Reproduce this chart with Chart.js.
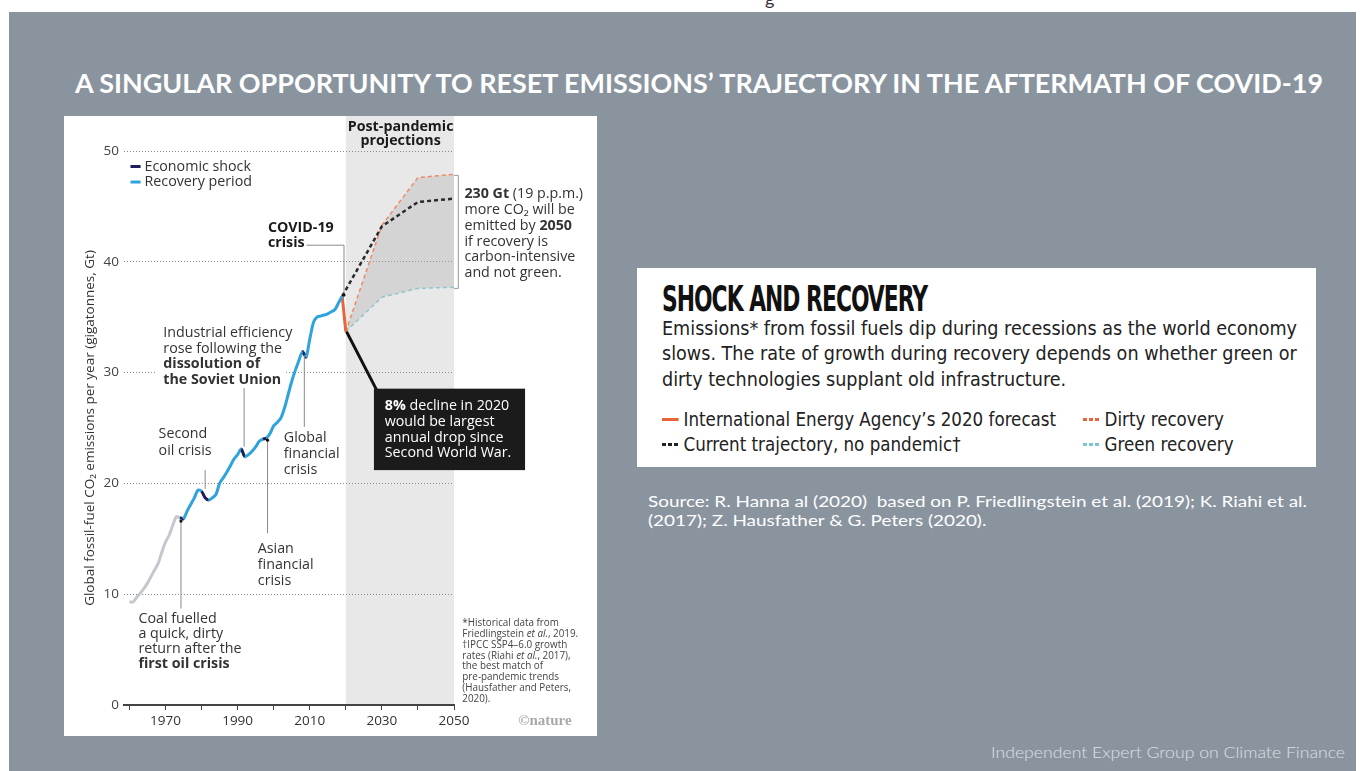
<!DOCTYPE html>
<html>
<head>
<meta charset="utf-8">
<script src="https://cdn.jsdelivr.net/npm/chart.js@4.4.1/dist/chart.umd.min.js"></script>
<style>
  html, body { margin: 0; padding: 0; width: 1360px; height: 771px; overflow: hidden; background: #fff; font-family: Lato, sans-serif; }
  .abs { position: absolute; white-space: nowrap; transform-origin: 0 0; }
  #topg { left: 765px; top: -13px; font-size: 18px; color: #333; }
  #slide { position: absolute; left: 9px; top: 12px; width: 1347px; height: 759px; background: #8a949f; }
  #title { left: 75px; top: 67px; color: #fff; font: bold 26px Lato; }
  #panel { position: absolute; left: 64px; top: 116px; width: 533px; height: 620px; background: #fff; }
  #box { position: absolute; left: 637px; top: 268px; width: 679px; height: 199px; background: #fff; }
  #boxTitle { left: 662px; top: 278px; font: bold 36px "DejaVu Sans Condensed"; color: #111; letter-spacing: -1.5px; }
  .body { left: 662px; font: 20px "DejaVu Sans Condensed"; color: #222; }
  .leg { font: 19px "DejaVu Sans Condensed"; color: #222; display: flex; align-items: center; transform-origin: 0 50%; }
  .dash { display: inline-block; width: 17px; height: 3px; margin-right: 5px; }
  .src { left: 648px; color: #fff; font: 16px Lato; }
  #footer { left: 991px; top: 742px; color: #dde1e5; font: 300 16px Lato; }
</style>
</head>
<body>
<div id="topg" class="abs">g</div>
<div id="slide"></div>
<div id="title" class="abs">A SINGULAR OPPORTUNITY TO RESET EMISSIONS’ TRAJECTORY IN THE AFTERMATH OF COVID-19</div>
<div id="panel"><canvas id="chart" width="533" height="620"></canvas></div>

<div id="box"></div>
<div id="boxTitle" class="abs">SHOCK AND RECOVERY</div>
<div id="body1" class="abs body" style="top:316px">Emissions* from fossil fuels dip during recessions as the world economy</div>
<div id="body2" class="abs body" style="top:341px">slows. The rate of growth during recovery depends on whether green or</div>
<div id="body3" class="abs body" style="top:367px">dirty technologies supplant old infrastructure.</div>
<div id="leg1" class="abs leg" style="left:662px;top:408px"><span class="dash" style="background:#e8643a"></span>International Energy Agency’s 2020 forecast</div>
<div id="leg2" class="abs leg" style="left:1083px;top:408px"><span class="dash" style="background:repeating-linear-gradient(90deg,#e8643a 0 4px,transparent 4px 6px)"></span>Dirty recovery</div>
<div id="leg3" class="abs leg" style="left:662px;top:433px"><span class="dash" style="background:repeating-linear-gradient(90deg,#222 0 4px,transparent 4px 6px)"></span>Current trajectory, no pandemic†</div>
<div id="leg4" class="abs leg" style="left:1083px;top:433px"><span class="dash" style="background:repeating-linear-gradient(90deg,#7cc6cf 0 4px,transparent 4px 6px)"></span>Green recovery</div>

<div id="src1" class="abs src" style="top:491px">Source: R. Hanna al (2020)&nbsp; based on P. Friedlingstein et al. (2019); K. Riahi et al.</div>
<div id="src2" class="abs src" style="top:510px">(2017); Z. Hausfather &amp; G. Peters (2020).</div>
<div id="footer" class="abs">Independent Expert Group on Climate Finance</div>

<script>
// historical fossil CO2 emissions (Gt)
const years = [1960, 1961, 1962, 1963, 1964, 1965, 1966, 1967, 1968, 1969,
  1970, 1971, 1972, 1973, 1974, 1975, 1976, 1977, 1978, 1979,
  1980, 1981, 1982, 1983, 1984, 1985, 1986, 1987, 1988, 1989,
  1990, 1991, 1992, 1993, 1994, 1995, 1996, 1997, 1998, 1999,
  2000, 2001, 2002, 2003, 2004, 2005, 2006, 2007, 2008, 2009,
  2010, 2011, 2012, 2013, 2014, 2015, 2016, 2017, 2018, 2019];
const emissions = [9.3, 9.3, 9.7, 10.1, 10.5, 11.0, 11.6, 12.2, 12.8, 13.8,
  14.7, 15.3, 16.2, 17.0, 16.9, 16.8, 17.5, 18.1, 18.7, 19.4,
  19.3, 18.7, 18.5, 18.7, 19.0, 20.0, 20.5, 21.0, 21.6, 22.2,
  22.6, 23.1, 22.4, 22.6, 22.9, 23.3, 23.8, 24.0, 24.1, 24.5,
  25.2, 25.5, 25.9, 26.8, 28.0, 29.2, 30.2, 31.1, 31.9, 31.4,
  33.0, 34.5, 35.0, 35.1, 35.2, 35.3, 35.5, 35.7, 36.3, 36.9];
const grayUntil = 1974;
const shockStarts = [1974, 1980, 1981, 1991, 1997, 2008];

const ieaYears = [2019, 2020];
const ieaValues = [36.9, 33.7];
const trajectoryYears = [2019, 2030, 2040, 2050];
const trajectoryValues = [36.9, 43.2, 45.4, 45.7];
const scenarioYears = [2020, 2030, 2040, 2050];
const dirtyValues = [33.7, 43.3, 47.6, 47.9];
const greenValues = [33.7, 36.8, 37.6, 37.7];

const yTicks = [0, 10, 20, 30, 40, 50];
const xTicks = [1960, 1970, 1980, 1990, 2000, 2010, 2020, 2030, 2040, 2050];
const xLabels = [1970, 1990, 2010, 2030, 2050];
const projection = [2020, 2050];

const BLUE = '#2ea3dc', NAVY = '#1d1f5c', GRAY = '#c3c8cf', ORANGE = '#e8643a';
const FONT = '"Open Sans"';
let K = 1; // text scale so annotation widths match the figure

const toXY = (xs, ys) => xs.map((x, i) => ({ x, y: ys[i] }));

// draws a line of text, ** toggles bold, _ toggles italic
function richLine(ctx, x, y, line, size, color) {
  let bold = false, italic = false;
  ctx.fillStyle = color;
  ctx.textBaseline = 'middle';
  ctx.textAlign = 'left';
  for (const tok of line.split(/(\*\*|_)/)) {
    if (tok === '**') { bold = !bold; continue; }
    if (tok === '_') { italic = !italic; continue; }
    if (!tok) continue;
    ctx.font = `${italic ? 'italic ' : ''}${bold ? 'bold ' : ''}${size * K}px ${FONT}`;
    ctx.fillText(tok, x, y);
    x += ctx.measureText(tok).width;
  }
  return x;
}

function block(ctx, x, y, lines, size, lh, color) {
  lines.forEach((l, i) => richLine(ctx, x, y + i * lh, l, size, color));
}

function vline(ctx, x, y0, y1, color, w) {
  ctx.strokeStyle = color; ctx.lineWidth = w || 1;
  ctx.beginPath(); ctx.moveTo(x, y0); ctx.lineTo(x, y1); ctx.stroke();
}

function dot(ctx, x, y) {
  ctx.fillStyle = '#111';
  ctx.beginPath(); ctx.arc(x, y, 1.6, 0, Math.PI * 2); ctx.fill();
}

const decor = {
  id: 'decor',
  beforeDraw(chart) {
    const { ctx, chartArea, scales: { x } } = chart;
    ctx.save();
    ctx.font = `13px ${FONT}`;
    K = 129 / ctx.measureText('Industrial efficiency').width;
    const x0 = x.getPixelForValue(projection[0]);
    const x1 = x.getPixelForValue(projection[1]);
    ctx.fillStyle = '#e8e8e8';
    ctx.fillRect(x0, 0, x1 - x0, chartArea.bottom);
    ctx.restore();
  },
  beforeDatasetsDraw(chart) {
    // the label block interrupts the 30 Gt gridline
    const { ctx, scales: { x, y } } = chart;
    ctx.save();
    ctx.fillStyle = '#fff';
    const l = x.getPixelForValue(1967.5), r = x.getPixelForValue(2003.3);
    ctx.fillRect(l, y.getPixelForValue(34.3), r - l, y.getPixelForValue(28.0) - y.getPixelForValue(34.3));
    ctx.restore();
  },
  afterDraw(chart) {
    const { ctx, scales: { x, y } } = chart;
    const X = v => x.getPixelForValue(v);
    const Y = v => y.getPixelForValue(v);
    const LH = 15.8, SZ = 13, TXT = '#333', LEAD = '#8a8a8a';
    ctx.save();

    // legend
    ctx.lineWidth = 3;
    ctx.strokeStyle = NAVY;
    ctx.beginPath(); ctx.moveTo(X(1960.3), Y(48.6)); ctx.lineTo(X(1963.1), Y(48.6)); ctx.stroke();
    ctx.strokeStyle = BLUE;
    ctx.beginPath(); ctx.moveTo(X(1960.3), Y(47.2)); ctx.lineTo(X(1963.1), Y(47.2)); ctx.stroke();
    richLine(ctx, X(1964.2), Y(48.6), 'Economic shock', SZ, TXT);
    richLine(ctx, X(1964.2), Y(47.2), 'Recovery period', SZ, TXT);

    // first oil crisis
    vline(ctx, X(1974.3), Y(16.8), Y(8.7), LEAD);
    dot(ctx, X(1974.3), Y(16.6));
    block(ctx, X(1962.5), Y(7.8), ['Coal fuelled', 'a quick, dirty', 'return after the', '**first oil crisis**'], SZ, 15, TXT);

    // second oil crisis
    vline(ctx, X(1981.0), Y(21.2), Y(19.5), LEAD);
    block(ctx, X(1968.1), Y(24.45), ['Second', 'oil crisis'], SZ, 16.4, TXT);

    // soviet union
    block(ctx, X(1969.4), Y(33.6), ['Industrial efficiency', 'rose following the', '**dissolution of**', '**the Soviet Union**'], SZ, LH, TXT);
    vline(ctx, X(1991.8), Y(28.6), Y(23.3), LEAD);

    // asian crisis
    vline(ctx, X(1998.3), Y(24.0), Y(15.5), LEAD);
    dot(ctx, X(1998.3), Y(23.9));
    block(ctx, X(1995.6), Y(14.07), ['Asian', 'financial', 'crisis'], SZ, LH, TXT);

    // global financial crisis
    vline(ctx, X(2008.5), Y(31.6), Y(25.1), LEAD);
    block(ctx, X(2002.8), Y(24.1), ['Global', 'financial', 'crisis'], SZ, LH, TXT);

    // covid
    block(ctx, X(1998.4), Y(43.05), ['**COVID-19**', '**crisis**'], 13, 15, '#1a1a1a');
    ctx.strokeStyle = LEAD; ctx.lineWidth = 1;
    ctx.beginPath();
    ctx.moveTo(X(2009.1), Y(41.5)); ctx.lineTo(X(2019.5), Y(41.5)); ctx.lineTo(X(2019.5), Y(37.1));
    ctx.stroke();
    dot(ctx, X(2019.5), Y(37.0));

    // header of projection band
    ctx.textAlign = 'center';
    ctx.textBaseline = 'middle';
    ctx.fillStyle = '#1a1a1a';
    ctx.font = `bold ${13 * K}px ${FONT}`;
    ctx.fillText('Post-pandemic', X(2035.2), Y(52.2));
    ctx.fillText('projections', X(2035.2), Y(50.9));

    // bracket + 230 Gt note
    ctx.strokeStyle = '#9a9a9a'; ctx.lineWidth = 1;
    ctx.beginPath();
    ctx.moveTo(X(2050), Y(47.8)); ctx.lineTo(X(2051.2), Y(47.8)); ctx.lineTo(X(2051.2), Y(37.6)); ctx.lineTo(X(2050), Y(37.6));
    ctx.stroke();
    block(ctx, X(2052.9), Y(46.1), ['**230 Gt** (19 p.p.m.)', 'more CO₂ will be', 'emitted by **2050**', 'if recovery is', 'carbon-intensive', 'and not green.'], SZ, LH, TXT);

    // black call-out box
    ctx.strokeStyle = '#111'; ctx.lineWidth = 3;
    ctx.beginPath(); ctx.moveTo(X(2020.2), Y(33.7)); ctx.lineTo(X(2028.6), Y(28.4)); ctx.stroke();
    ctx.fillStyle = '#1b1b1b';
    ctx.fillRect(X(2027.8), Y(28.55), X(2069.7) - X(2027.8), Y(21.2) - Y(28.55));
    block(ctx, X(2030.8), Y(27.0), ['**8%** decline in 2020', 'would be largest', 'annual drop since', 'Second World War.'], SZ, LH, '#fff');

    // footnote
    block(ctx, X(2052.3), Y(7.4), ['*Historical data from', 'Friedlingstein _et al._, 2019.', '†IPCC SSP4–6.0 growth', 'rates (Riahi _et al._, 2017),', 'the best match of', 'pre-pandemic trends', '(Hausfather and Peters,', '2020).'], 9, 10.9, '#444');

    // nature credit
    ctx.textAlign = 'left';
    ctx.fillStyle = '#a9a9a9';
    ctx.font = 'bold 15px "Liberation Serif"';
    ctx.fillText('©nature', X(2067.8), Y(-1.45));
    ctx.restore();
  }
};

new Chart(document.getElementById('chart'), {
  type: 'line',
  data: {
    datasets: [
      {
        label: 'Historical',
        data: toXY(years, emissions),
        borderColor: BLUE,
        borderWidth: 3,
        tension: 0.25,
        pointRadius: 0,
        segment: {
          borderColor: c => {
            const yr = years[c.p0DataIndex];
            if (yr < grayUntil) return GRAY;
            if (shockStarts.includes(yr)) return NAVY;
            return BLUE;
          }
        }
      },
      {
        label: 'International Energy Agency 2020 forecast',
        data: toXY(ieaYears, ieaValues),
        borderColor: ORANGE,
        borderWidth: 3,
        pointRadius: 0
      },
      {
        label: 'Current trajectory, no pandemic',
        data: toXY(trajectoryYears, trajectoryValues),
        borderColor: '#2a2a2a',
        borderWidth: 2.5,
        borderDash: [4, 3],
        pointRadius: 0
      },
      {
        label: 'Dirty recovery',
        data: toXY(scenarioYears, dirtyValues),
        borderColor: '#ef8a66',
        borderWidth: 1.5,
        borderDash: [4, 3],
        pointRadius: 0,
        fill: 4,
        backgroundColor: 'rgba(175,175,175,0.35)'
      },
      {
        label: 'Green recovery',
        data: toXY(scenarioYears, greenValues),
        borderColor: '#8ccbd4',
        borderWidth: 1.5,
        borderDash: [4, 3],
        pointRadius: 0
      }
    ]
  },
  options: {
    responsive: false,
    animation: false,
    devicePixelRatio: 1,
    layout: { padding: { top: 35, right: 143, bottom: 0, left: 0 } },
    plugins: {
      legend: { display: false },
      tooltip: { enabled: false }
    },
    scales: {
      x: {
        type: 'linear',
        min: 1958.5,
        max: 2050,
        afterBuildTicks: s => { s.ticks = xTicks.map(v => ({ value: v })); },
        afterFit: s => { s.height = 31; },
        grid: { drawOnChartArea: false, drawTicks: true, tickLength: 5, color: '#444' },
        border: { display: true, color: '#444', width: 2 },
        ticks: {
          autoSkip: false,
          maxRotation: 0,
          padding: 3,
          color: '#333',
          font: { family: FONT, size: 13.5 },
          callback: v => xLabels.includes(v) ? String(v) : ''
        }
      },
      y: {
        min: 0,
        max: 50,
        afterBuildTicks: s => { s.ticks = yTicks.map(v => ({ value: v })); },
        afterFit: s => { s.width = 60; },
        grid: {
          drawTicks: false,
          color: c => c.tick && c.tick.value === 0 ? 'rgba(0,0,0,0)' : '#8a8a8a'
        },
        border: { display: false, dash: [1, 2] },
        ticks: {
          padding: 5,
          color: '#444',
          font: { family: FONT, size: 13.5 }
        },
        title: {
          display: true,
          text: 'Global fossil-fuel CO₂ emissions per year (gigatonnes, Gt)',
          color: '#333',
          font: { family: FONT, size: 13.5 },
          padding: { top: 18, bottom: 0 }
        }
      }
    }
  },
  plugins: [decor]
});

// stretch slide texts to the widths measured on the reference
function fit(id, width, scaleFrom) {
  const el = document.getElementById(id);
  const s = scaleFrom || width / el.getBoundingClientRect().width;
  el.style.transform = `scaleX(${s})`;
  return s;
}
fit('title', 1248);
fit('boxTitle', 265);
const bs = fit('body1', 635);
fit('body2', 0, bs);
fit('body3', 0, bs);
['leg1', 'leg2', 'leg3', 'leg4'].forEach(id => fit(id, 0, bs));
const ss = fit('src1', 659);
fit('src2', 0, ss);
fit('footer', 354);
</script>
</body>
</html>
